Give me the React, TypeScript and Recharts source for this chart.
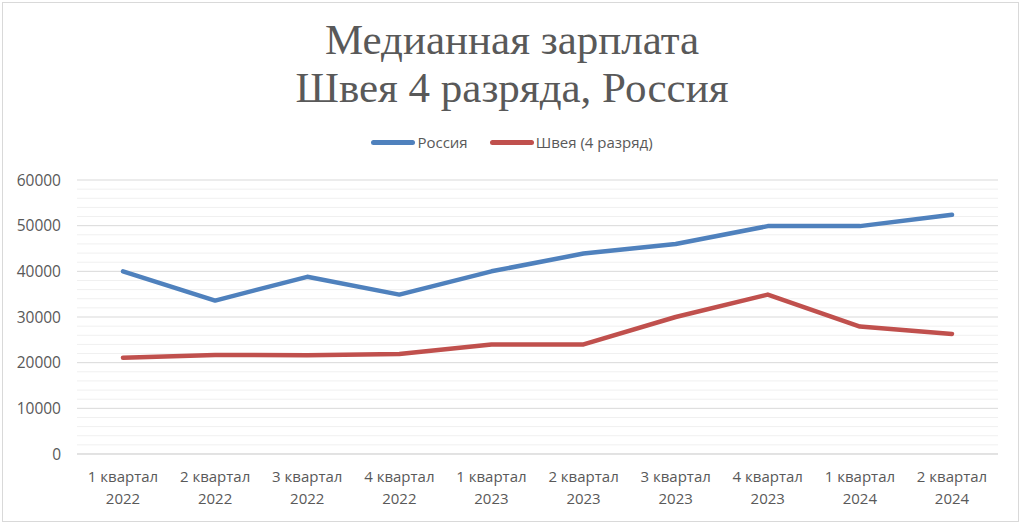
import React from "react";
import { LineChart, Line, XAxis, YAxis, CartesianGrid, ReferenceLine } from "recharts";

const categories = [
  "1 квартал 2022",
  "2 квартал 2022",
  "3 квартал 2022",
  "4 квартал 2022",
  "1 квартал 2023",
  "2 квартал 2023",
  "3 квартал 2023",
  "4 квартал 2023",
  "1 квартал 2024",
  "2 квартал 2024",
];
const russia = [40000, 33600, 38800, 34900, 40000, 43900, 46000, 49900, 49900, 52400];
const shveya = [21100, 21700, 21600, 21900, 24000, 24000, 30000, 34900, 27900, 26300];
const yTicks = [0, 10000, 20000, 30000, 40000, 50000, 60000];
const minorGrid = [
  2000, 4000, 6000, 8000, 12000, 14000, 16000, 18000, 22000, 24000, 26000, 28000,
  32000, 34000, 36000, 38000, 42000, 44000, 46000, 48000, 52000, 54000, 56000, 58000,
];
const seriesNames = ["Россия", "Швея (4 разряд)"];
const seriesColors = ["#4F81BD", "#C0504D"];
const titleLines = ["Медианная зарплата", "Швея 4 разряда, Россия"];

const data = categories.map((c, i) => ({ cat: c, russia: russia[i], shveya: shveya[i] }));

const TEXT = "#595959";
const SANS = "'Open Sans', 'Liberation Sans', sans-serif";

const XTick = (props: any) => {
  const { x, y, payload } = props;
  const s: string = payload.value;
  const idx = s.lastIndexOf(" ");
  const a = s.slice(0, idx);
  const b = s.slice(idx + 1);
  return (
    <text x={x} y={y} textAnchor="middle" fill={TEXT} fontFamily={SANS} fontSize={15}>
      <tspan x={x} dy={20}>{a}</tspan>
      <tspan x={x} dy={22}>{b}</tspan>
    </text>
  );
};

export default function App() {
  return (
    <div style={{ position: "absolute", left: 0, top: 0, width: 1024, height: 527, background: "#fff" }}>
      <div
        style={{
          position: "absolute",
          left: 2,
          top: 2,
          width: 1015,
          height: 518,
          border: "1px solid #D9D9D9",
        }}
      />
      <div
        style={{
          position: "absolute",
          left: 0,
          top: 16,
          width: 1024,
          textAlign: "center",
          fontFamily: "'Liberation Serif', serif",
          fontSize: 43,
          lineHeight: "48px",
          color: TEXT,
        }}
      >
        <div>{titleLines[0]}</div>
        <div>{titleLines[1]}</div>
      </div>
      <div
        style={{
          position: "absolute",
          left: 0,
          top: 131,
          width: 1024,
          display: "flex",
          justifyContent: "center",
          fontFamily: SANS,
          fontSize: 15,
          color: TEXT,
          lineHeight: "22px",
        }}
      >
        {seriesNames.map((n, i) => (
          <div key={n} style={{ display: "flex", alignItems: "center", marginLeft: i ? 22 : 0 }}>
            <div style={{ width: 44, height: 5, borderRadius: 3, background: seriesColors[i], marginRight: 2 }} />
            <span>{n}</span>
          </div>
        ))}
      </div>
      <div style={{ position: "absolute", left: 0, top: 0 }}>
        <LineChart width={1024} height={527} data={data} margin={{ top: 180, right: 26, bottom: 13, left: 0 }}>
          <CartesianGrid vertical={false} stroke="#D9D9D9" strokeWidth={1} />
          {minorGrid.map((v) => (
            <ReferenceLine key={v} y={v} stroke="#F0F0F0" strokeWidth={1} ifOverflow="hidden" />
          ))}
          <XAxis
            dataKey="cat"
            scale="point"
            padding={{ left: 46, right: 46 }}
            height={60}
            tickLine={false}
            axisLine={{ stroke: "#D9D9D9" }}
            tick={<XTick />}
            interval={0}
          />
          <YAxis
            width={77}
            domain={[0, 60000]}
            ticks={yTicks}
            tickLine={false}
            axisLine={false}
            tickMargin={10}
            tick={{ fill: TEXT, fontFamily: SANS, fontSize: 15.5 }}
            interval={0}
          />
          <Line
            dataKey="russia"
            name={seriesNames[0]}
            stroke={seriesColors[0]}
            strokeWidth={4.5}
            strokeLinecap="round"
            strokeLinejoin="round"
            dot={false}
            activeDot={false}
            isAnimationActive={false}
          />
          <Line
            dataKey="shveya"
            name={seriesNames[1]}
            stroke={seriesColors[1]}
            strokeWidth={4.5}
            strokeLinecap="round"
            strokeLinejoin="round"
            dot={false}
            activeDot={false}
            isAnimationActive={false}
          />
        </LineChart>
      </div>
    </div>
  );
}
